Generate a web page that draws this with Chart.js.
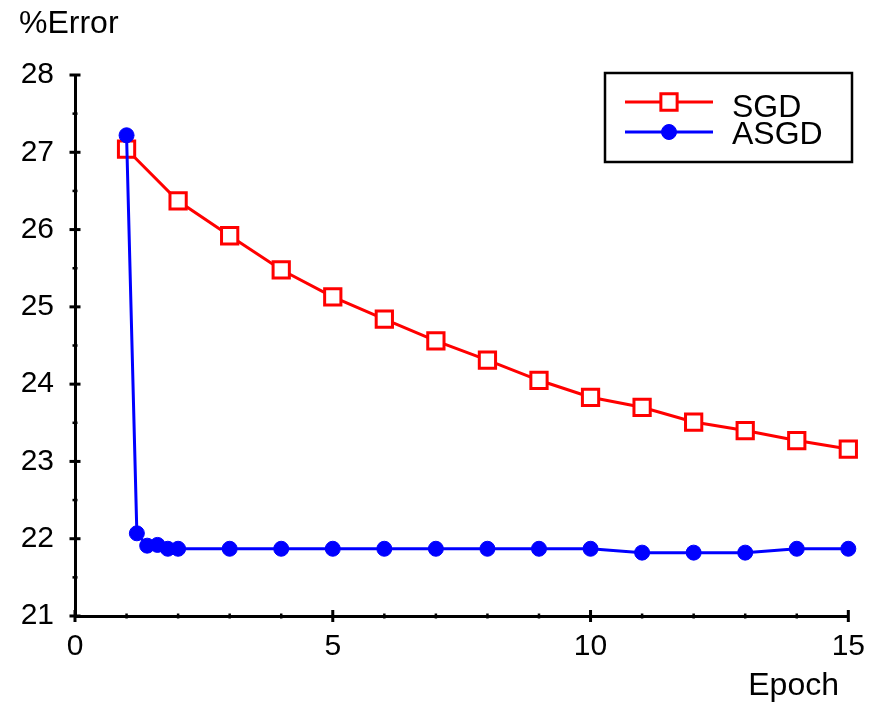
<!DOCTYPE html>
<html>
<head>
<meta charset="utf-8">
<script src="https://cdn.jsdelivr.net/npm/chart.js@4/dist/chart.umd.min.js"></script>
<style>
  html, body { margin: 0; padding: 0; background: #fff; }
  canvas { display: block; }
</style>
</head>
<body>
<canvas id="myChart" width="878" height="708"></canvas>
<script>
var sgdEpochs = [1, 2, 3, 4, 5, 6, 7, 8, 9, 10, 11, 12, 13, 14, 15];
var sgdError = [27.04, 26.37, 25.92, 25.48, 25.13, 24.84, 24.56, 24.31, 24.05, 23.83, 23.70, 23.51, 23.40, 23.27, 23.16];

var asgdEpochs = [1, 1.2, 1.4, 1.6, 1.8, 2, 3, 4, 5, 6, 7, 8, 9, 10, 11, 12, 13, 14, 15];
var asgdError = [27.22, 22.07, 21.91, 21.92, 21.87, 21.87, 21.87, 21.87, 21.87, 21.87, 21.87, 21.87, 21.87, 21.87, 21.82, 21.82, 21.82, 21.87, 21.87];

var seriesNames = ["SGD", "ASGD"];
var yAxisLabel = "%Error";
var xAxisLabel = "Epoch";

var FONT = "'Liberation Sans', Arial, sans-serif";

function toPoints(xs, ys) {
  return xs.map(function (x, i) { return { x: x, y: ys[i] }; });
}

// tick marks crossing the axes (major + minor)
var tickMarks = {
  id: "tickMarks",
  afterDraw: function (chart) {
    var ctx = chart.ctx;
    var xs = chart.scales.x, ys = chart.scales.y;
    var ax = xs.top, ay = ys.right;
    ctx.save();
    ctx.strokeStyle = "#000";
    var v, p;
    for (v = 21; v <= 28.001; v += 0.5) {
      p = ys.getPixelForValue(v);
      var major = Math.abs(v - Math.round(v)) < 0.01;
      ctx.lineWidth = major ? 3 : 2.5;
      var h = major ? 5.5 : 2.5;
      ctx.beginPath();
      ctx.moveTo(ay - h, p);
      ctx.lineTo(ay + h, p);
      ctx.stroke();
    }
    for (v = 0; v <= 15; v += 1) {
      p = xs.getPixelForValue(v);
      var majorX = v % 5 === 0;
      ctx.lineWidth = majorX ? 3 : 2.5;
      var hx = majorX ? 6 : 2.5;
      ctx.beginPath();
      ctx.moveTo(p, ax - hx);
      ctx.lineTo(p, ax + hx);
      ctx.stroke();
    }
    ctx.restore();
  }
};

// axis captions
var axisCaptions = {
  id: "axisCaptions",
  afterDraw: function (chart) {
    var ctx = chart.ctx;
    ctx.save();
    ctx.fillStyle = "#000";
    ctx.font = "32px " + FONT;
    ctx.textBaseline = "alphabetic";
    ctx.textAlign = "left";
    ctx.fillText(yAxisLabel, 19, 33);
    ctx.textAlign = "right";
    ctx.fillText(xAxisLabel, 839, 695);
    ctx.restore();
  }
};

// boxed legend with line + marker samples
var boxLegend = {
  id: "boxLegend",
  afterDraw: function (chart) {
    var ctx = chart.ctx;
    var bx = 605, by = 73, bw = 247, bh = 89;
    ctx.save();
    ctx.fillStyle = "#fff";
    ctx.fillRect(bx, by, bw, bh);
    ctx.strokeStyle = "#000";
    ctx.lineWidth = 2.5;
    ctx.strokeRect(bx, by, bw, bh);
    var rows = [
      { ds: chart.data.datasets[0], y: 102, base: 117 },
      { ds: chart.data.datasets[1], y: 132, base: 144 }
    ];
    rows.forEach(function (r) {
      var ds = r.ds;
      ctx.strokeStyle = ds.borderColor;
      ctx.lineWidth = ds.borderWidth;
      ctx.beginPath();
      ctx.moveTo(625, r.y);
      ctx.lineTo(713, r.y);
      ctx.stroke();
      ctx.fillStyle = ds.pointBackgroundColor;
      ctx.strokeStyle = ds.pointBorderColor;
      ctx.lineWidth = ds.pointBorderWidth;
      ctx.beginPath();
      if (ds.pointStyle === "rect") {
        var s = ds.pointRadius * Math.SQRT1_2;
        ctx.rect(669 - s, r.y - s, 2 * s, 2 * s);
      } else {
        ctx.arc(669, r.y, ds.pointRadius, 0, Math.PI * 2);
      }
      ctx.fill();
      ctx.stroke();
      ctx.fillStyle = "#000";
      ctx.font = "32px " + FONT;
      ctx.textAlign = "left";
      ctx.textBaseline = "alphabetic";
      ctx.fillText(ds.label, 732, r.base);
    });
    ctx.restore();
  }
};

document.addEventListener("DOMContentLoaded", function () {
  var ctx = document.getElementById("myChart").getContext("2d");

  var data = {
    datasets: [
      {
        label: seriesNames[0],
        data: toPoints(sgdEpochs, sgdError),
        borderColor: "#ff0000",
        borderWidth: 3,
        pointStyle: "rect",
        pointRadius: 11.5,
        pointHoverRadius: 11.5,
        pointBackgroundColor: "#ffffff",
        pointBorderColor: "#ff0000",
        pointBorderWidth: 3,
        tension: 0,
        clip: false,
        order: 2,
      },
      {
        label: seriesNames[1],
        data: toPoints(asgdEpochs, asgdError),
        borderColor: "#0000ff",
        borderWidth: 3,
        pointStyle: "circle",
        pointRadius: 7.5,
        pointHoverRadius: 7.5,
        pointBackgroundColor: "#0000ff",
        pointBorderColor: "#0000ff",
        pointBorderWidth: 1,
        tension: 0,
        clip: false,
        order: 1,
      },
    ],
  };

  var options = {
    responsive: false,
    maintainAspectRatio: false,
    animation: false,
    layout: { padding: { left: 0, right: 28, top: 75, bottom: 0 } },
    plugins: {
      legend: { display: false },
      tooltip: { enabled: false },
    },
    scales: {
      x: {
        type: "linear",
        min: 0,
        max: 15,
        afterFit: function (scale) { scale.height = 92; },
        grid: { display: false, drawTicks: false },
        border: { display: true, color: "#000", width: 3 },
        ticks: {
          stepSize: 5,
          padding: 13,
          color: "#000",
          font: { family: FONT, size: 30 },
        },
      },
      y: {
        type: "linear",
        min: 21,
        max: 28,
        afterFit: function (scale) { scale.width = 75; },
        grid: { display: false, drawTicks: false },
        border: { display: true, color: "#000", width: 3 },
        ticks: {
          stepSize: 1,
          padding: 21,
          color: "#000",
          font: { family: FONT, size: 30 },
        },
      },
    },
  };

  var myChart = new Chart(ctx, {
    type: "line",
    data: data,
    options: options,
    plugins: [tickMarks, axisCaptions, boxLegend],
  });
});
</script>
</body>
</html>
